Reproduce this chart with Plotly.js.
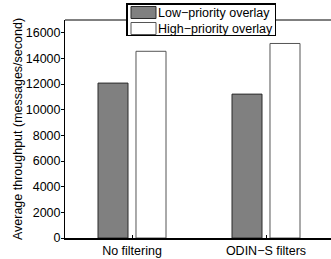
<!DOCTYPE html>
<html><head><meta charset="utf-8">
<script src="https://cdn.plot.ly/plotly-3.0.1.min.js"></script>
<style>html,body{margin:0;padding:0;overflow:hidden;background:#fff;}#chart{width:333px;height:259px;}</style>
</head><body><div id="chart"></div>
<script>
var categories = ["No filtering", "ODIN\u2212S filters"];
var lowPriority = [12080, 11220];
var highPriority = [14560, 15170];
var seriesNames = ["Low\u2212priority overlay", "High\u2212priority overlay"];
var yTicks = [0, 2000, 4000, 6000, 8000, 10000, 12000, 14000, 16000];

var font = {family: "Liberation Sans, Arial, sans-serif", size: 12.5, color: "#000"};
var traces = [
  {type: "bar", x: categories, y: lowPriority, name: seriesNames[0],
   marker: {color: "#808080", line: {color: "#2a2a2a", width: 1}}},
  {type: "bar", x: categories, y: highPriority, name: seriesNames[1],
   marker: {color: "#ffffff", line: {color: "#555555", width: 1}}}
];
var layout = {
  width: 333, height: 259,
  margin: {l: 65, r: 0, t: 20, b: 21, pad: 0},
  paper_bgcolor: "#fff", plot_bgcolor: "#fff",
  font: font,
  barmode: "group", bargap: 0.433, bargroupgap: 0.21,
  showlegend: true,
  legend: {x: 0.2276, y: 1.078, xanchor: "left", yanchor: "top",
           bgcolor: "#fff", bordercolor: "#000", borderwidth: 1.5,
           font: font, tracegroupgap: 0, traceorder: "normal"},
  xaxis: {type: "category", range: [-0.5, 1.5], showline: true, linecolor: "#000", linewidth: 2,
          ticks: "inside", ticklen: 3, tickcolor: "#000", showgrid: false, zeroline: false,
          tickfont: font, fixedrange: true},
  yaxis: {range: [0, 17000], tickvals: yTicks, ticktext: yTicks.map(String),
          showline: true, linecolor: "#000", linewidth: 1, ticks: "outside", ticklen: 3, tickcolor: "#000",
          showgrid: false, zeroline: false, tickfont: font, ticklabelstandoff: -2,
          title: {text: "Average throughput (messages/second)", font: font, standoff: 0}},
  shapes: [{type: "line", xref: "paper", yref: "paper", x0: 0, x1: 1, y0: 1, y1: 1,
            line: {color: "#000", width: 1}}]
};
Plotly.newPlot("chart", traces, layout, {displayModeBar: false, staticPlot: true}).then(function (gd) {
  var leg = gd.querySelector("g.legend");
  if (!leg) return;
  leg.setAttribute("transform", "translate(126,3)");
  var bg = leg.querySelector("rect.bg");
  if (bg) {
    bg.setAttribute("x", 0.75); bg.setAttribute("y", 0.75);
    bg.setAttribute("width", 148.5); bg.setAttribute("height", 31.5);
  }
  var sb = leg.querySelector("g.scrollbox");
  if (sb) { sb.setAttribute("transform", "translate(0,0)"); sb.removeAttribute("clip-path"); }
  var grp = leg.querySelector("g.groups");
  if (grp) grp.setAttribute("transform", "translate(0,0)");
  var items = leg.querySelectorAll("g.traces");
  items.forEach(function (it, i) {
    it.setAttribute("transform", "translate(0," + (9.5 + 16 * i) + ")");
    var txt = it.querySelector("text.legendtext");
    if (txt) txt.setAttribute("x", 32);
    var p = it.querySelector("path.legendbar") || it.querySelector(".legendpoints path");
    if (p) {
      var el = p;
      while (el && el !== it) { el.removeAttribute("transform"); el = el.parentNode; }
      p.setAttribute("d", "M30,6H5V-6H30Z");
    }
  });
});
</script></body></html>
